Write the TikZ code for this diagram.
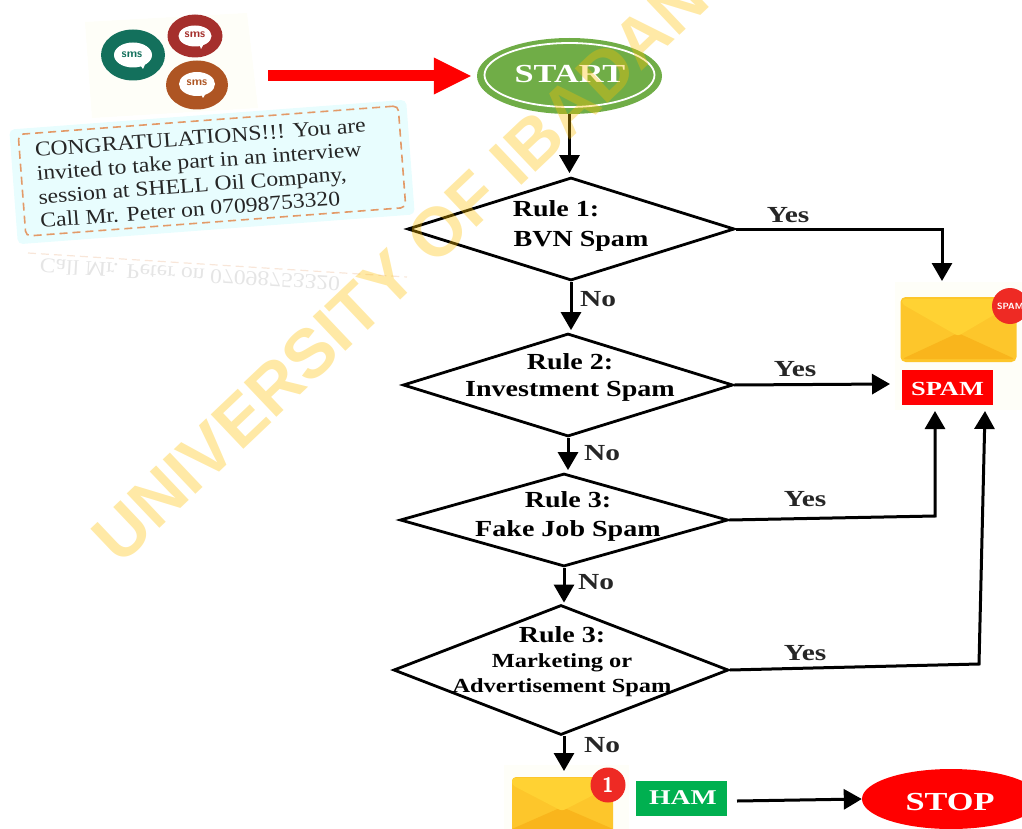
\documentclass[tikz,border=0pt]{standalone}
\usepackage{fontspec}
\setmainfont{Liberation Serif}
\newfontfamily\wmfont{Liberation Sans}
\newfontfamily\labf[FakeStretch=1.22]{Liberation Serif}
\newfontfamily\ynf[FakeStretch=1.28]{Liberation Serif}
\newfontfamily\capf[FakeStretch=1.32]{Liberation Serif}
\newfontfamily\msgf[FakeStretch=1.125]{Liberation Serif}
\usetikzlibrary{arrows.meta,shapes.geometric,calc}
\definecolor{wmyellow}{HTML}{FFC000}
\definecolor{envlight}{HTML}{FFD233}
\definecolor{envmid}{HTML}{FDC62B}
\definecolor{envdark}{HTML}{F9B51C}
\definecolor{startgreen}{HTML}{70AD47}
\definecolor{smsgreen}{HTML}{13705C}
\definecolor{smsred}{HTML}{A52F2C}
\definecolor{smsorange}{HTML}{AE5523}
\definecolor{cardfill}{HTML}{E8FDFE}
\definecolor{carddash}{HTML}{E39A68}
\definecolor{paper}{HTML}{FEFEF8}
\definecolor{hamgreen}{HTML}{00B050}
\definecolor{badge}{HTML}{EE2A24}
\tikzset{
  rule/.style={draw=black,line width=2.8pt,diamond,inner sep=0pt},
  lab/.style={font=\labf\bfseries\fontsize{23}{26}\selectfont,inner sep=0pt},
  smalllab/.style={font=\labf\bfseries\fontsize{20}{24}\selectfont,inner sep=0pt},
  yn/.style={font=\ynf\bfseries\fontsize{23}{25}\selectfont,inner sep=0pt,text=black!85},
  conn/.style={draw=black,line width=3pt,-{Triangle[width=20pt,length=18pt]}},
  whitelab/.style={text=white,font=\capf\bfseries\fontsize{21}{24}\selectfont,inner sep=0pt},
  smsring/.style={ellipse,inner sep=0pt},
  bubble/.style={fill=white,draw=none,ellipse,inner sep=0pt},
  smstext/.style={font=\bfseries\sffamily\fontsize{12}{12}\selectfont,inner sep=0pt},
  card/.style={rounded corners=5pt,inner sep=0pt,rotate=4.3},
}
\begin{document}
\begin{tikzpicture}[x=1pt,y=-1pt]
\useasboundingbox (0,0) rectangle (1022,829);
\clip (0,0) rectangle (1022,829);
% sms icons
\fill[paper] (85,22) -- (247,13) -- (258,108) -- (92,118) -- cycle;
\node[smsring,fill=smsgreen,minimum width=64pt,minimum height=51pt] (smsa) at (133,55) {};
\fill[white] (138,62) -- (147,60) -- (143,69) -- cycle;
\node[bubble,minimum width=38pt,minimum height=25pt] (bubblea) at (133,55) {};
\node[smstext,text=smsgreen] (ta) at (132,55) {sms};
\node[smsring,fill=smsred,minimum width=55pt,minimum height=43pt] (smsb) at (195,36) {};
\fill[white] (198,41) -- (206,40) -- (201,49) -- cycle;
\node[bubble,minimum width=33pt,minimum height=21pt] (bubbleb) at (195,36) {};
\node[smstext,text=smsred] (tb) at (195,35) {sms};
\node[smsring,fill=smsorange,minimum width=62pt,minimum height=49pt] (smsc) at (197,85) {};
\fill[white] (199,91) -- (208,90) -- (203,98) -- cycle;
\node[bubble,minimum width=36pt,minimum height=24pt] (bubblec) at (197,84) {};
\node[smstext,text=smsorange] (tc) at (197,83) {sms};
% message card
\node[card,fill=cardfill,minimum width=398pt,minimum height=115pt] (cardbg) at (212,172) {};
\node[card,draw=carddash,line width=1.6pt,dash pattern=on 8pt off 5pt,minimum width=381pt,minimum height=102pt] (cardline) at (212,171) {};
\node[rotate=4.3,inner sep=0pt,align=left,font=\msgf\fontsize{21}{23.7}\selectfont,text=black!85] (msg) at (203,173) {CONGRATULATIONS!!! You are\\invited to take part in an interview\\session at SHELL Oil Company,\\Call Mr. Peter on 07098753320};
\draw[carddash!25,line width=1.2pt,dash pattern=on 8pt off 5pt] (28,253) -- (407,277);
\node[rotate=-3.4,inner sep=0pt,font=\msgf\fontsize{21}{23}\selectfont,text=black!10,yscale=-1] (msgr) at (190,275) {Call Mr. Peter on 07098753320};
% start
\node[ellipse,fill=startgreen,minimum width=185pt,minimum height=76pt,inner sep=0pt] (start) at (569.5,76) {};
\node[ellipse,draw=white,line width=1.8pt,minimum width=170pt,minimum height=64pt,inner sep=0pt] (startring) at (569.5,75) {};
\node[whitelab,font=\capf\bfseries\fontsize{26}{28}\selectfont] (starttext) at (570,74) {START};
% red arrow
\coordinate (redstart) at (268,76);
\draw[red,line width=11pt,shorten >=5pt,-{Triangle[width=34pt,length=38pt]}] (redstart) -- (start.west |- redstart);
% diamonds
\node[rule,aspect=3.17,minimum width=327pt,minimum height=103pt] (d1) at (571,229) {};
\node[rule,aspect=3.2,minimum width=330pt,minimum height=103pt] (d2) at (568,385) {};
\node[rule,aspect=3.5,minimum width=328pt,minimum height=93pt] (d3) at (564,520) {};
\node[rule,aspect=2.6,minimum width=335pt,minimum height=130pt] (d4) at (561,670) {};
\node[lab] (l1a) at (556,209) {Rule 1:};
\node[lab] (l1b) at (581,241) {BVN Spam};
\node[lab] (l2a) at (570,362) {Rule 2:};
\node[lab] (l2b) at (570,391) {Investment Spam};
\node[lab] (l3a) at (568,500) {Rule 3:};
\node[lab] (l3b) at (568,531) {Fake Job Spam};
\node[lab] (l4a) at (562,635) {Rule 3:};
\node[smalllab] (l4b) at (562,663) {Marketing or};
\node[smalllab] (l4c) at (562,688) {Advertisement Spam};
% spam envelope
\node[fill=paper,minimum width=127pt,minimum height=128pt,inner sep=0pt] (spambg) at (958.5,346) {};
\node[fill=envmid,rounded corners=5pt,minimum width=116pt,minimum height=65pt,inner sep=0pt] (spamenv) at (958.5,329.5) {};
\fill[envdark,rounded corners=3pt] (902,359) -- (958,333) -- (1015,359) -- cycle;
\fill[envlight,rounded corners=3pt] (902,299) -- (1016,299) -- (1016,302) -- (958,336) -- (902,304) -- cycle;
\node[circle,fill=badge,minimum size=36pt,inner sep=0pt] (spambadge) at (1010,306) {};
\node[text=white,font=\bfseries\sffamily\fontsize{9}{9}\selectfont,inner sep=0pt,anchor=west] (spambadget) at (997,306) {SPAM};
\node[fill=red,minimum width=91pt,minimum height=35pt,inner sep=0pt] (spambox) at (947.5,387) {};
\node[whitelab,font=\capf\bfseries\fontsize{20}{22}\selectfont] (spamtext) at (947.5,389) {SPAM};
% ham envelope
\node[fill=paper,minimum width=125pt,minimum height=70pt,inner sep=0pt] (hambg) at (566,800) {};
\node[fill=envmid,rounded corners=4pt,minimum width=101pt,minimum height=80pt,inner sep=0pt] (hamenv) at (562.5,817) {};
\fill[envdark] (512,829) -- (562,807) -- (613,829) -- cycle;
\fill[envlight,rounded corners=3pt] (512,778) -- (613,778) -- (613,785) -- (562,811) -- (512,785) -- cycle;
\node[circle,fill=badge,minimum size=35pt,inner sep=0pt] (hambadge) at (608,785) {};
\node[text=white,font=\bfseries\sffamily\fontsize{21}{21}\selectfont,inner sep=0pt] (hambadget) at (608,785) {1};
\node[fill=hamgreen,minimum width=91pt,minimum height=35pt,inner sep=0pt] (hambox) at (681.5,798) {};
\node[whitelab] (hamtext) at (683,798) {HAM};
% stop
\node[ellipse,fill=red,minimum width=178pt,minimum height=60pt,inner sep=0pt] (stop) at (951,799) {};
\node[whitelab,font=\capf\bfseries\fontsize{26}{28}\selectfont] (stoptext) at (950,802) {STOP};
% connector ends
\coordinate (s1) at (942,281);
\coordinate (s2) at (890,384);
\coordinate (s3) at (935,411);
\coordinate (s4) at (985,411);
\coordinate (s3k) at (935,516);
\coordinate (s4k) at (979,664);
\coordinate (hamin) at (564,771);
\coordinate (hamout) at (737,801);
% connectors
\draw[conn,shorten >=3pt] (start.south) -- (start.south |- d1.north);
\draw[conn,shorten >=2pt] (d1.south) -- (d1.south |- d2.north);
\draw[conn,shorten >=2pt] (d2.south) -- (d2.south |- d3.north);
\draw[conn,shorten >=1pt] (d3.south) -- (d3.south |- d4.north);
\draw[conn] (d4.south -| hamin) -- (hamin);
\draw[conn] (d1.east) -| (s1);
\draw[conn] (d2.east) -- (s2);
\draw[conn] (d3.east) -- (s3k) -- (s3);
\draw[conn] (d4.east) -- (s4k) -- (s4);
\draw[conn] (hamout) -- (stop.west);
% branch labels
\node[yn] (y1) at (788,215) {Yes};
\node[yn] (y2) at (795,369) {Yes};
\node[yn] (y3) at (805,499) {Yes};
\node[yn] (y4) at (805,653) {Yes};
\node[yn] (n1) at (598,299) {No};
\node[yn] (n2) at (602,453) {No};
\node[yn] (n3) at (596,582) {No};
\node[yn] (n4) at (602,745) {No};
% watermark, laid over the drawing
\node[rotate=43.5,anchor=west,inner sep=0pt,text=wmyellow,text opacity=0.35,font=\wmfont\bfseries\fontsize{69}{69}\selectfont] (wm) at (104,549) {UNIVERSITY OF IBADAN};
\end{tikzpicture}
\end{document}
